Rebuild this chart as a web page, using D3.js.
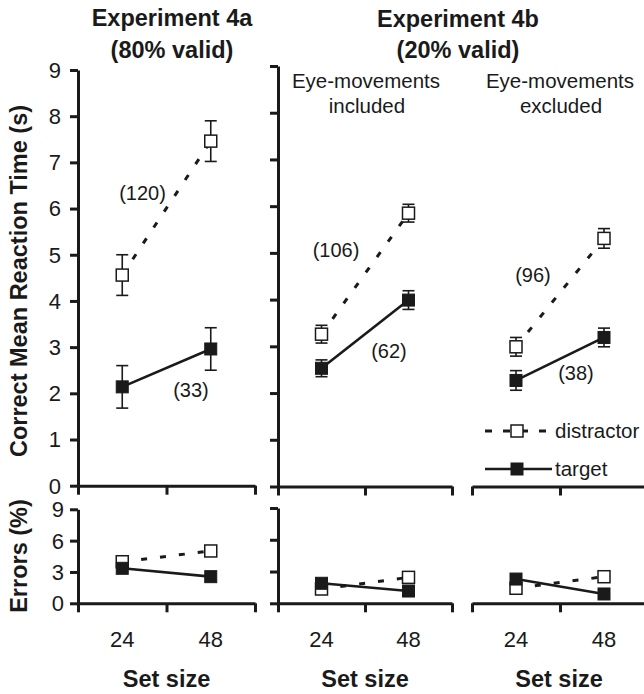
<!DOCTYPE html>
<html>
<head>
<meta charset="utf-8">
<script src="https://cdn.jsdelivr.net/npm/d3@7"></script>
<style>
  html, body { margin: 0; padding: 0; background: #fff; }
  svg { display: block; }
  text { font-family: "Liberation Sans", Arial, Helvetica, sans-serif; fill: #1a1a1a; }
</style>
</head>
<body>
<svg id="chart" width="644" height="694"></svg>
<script>
// ---------------- DATA ----------------
const setSizes = ["24", "48"];
const panelNames = ["Experiment 4a", "4b: eye-movements included", "4b: eye-movements excluded"];
// Correct mean reaction time (s), per panel, per set size
const rtDistractor    = [[4.56, 7.46], [3.26, 5.85], [2.99, 5.31]];
const rtDistractorErr = [[0.44, 0.44], [0.19, 0.19], [0.20, 0.21]];
const rtTarget        = [[2.14, 2.96], [2.53, 3.99], [2.27, 3.19]];
const rtTargetErr     = [[0.46, 0.46], [0.18, 0.20], [0.21, 0.20]];
// Errors (%)
const errDistractor = [[3.98, 5.01], [1.35, 2.45], [1.42, 2.51]];
const errTarget     = [[3.35, 2.55], [1.89, 1.16], [2.29, 0.88]];
// Slope annotations (ms per item)
const slopeDistractor = ["(120)", "(106)", "(96)"];
const slopeTarget     = ["(33)", "(62)", "(38)"];
const rtTicks  = [0, 1, 2, 3, 4, 5, 6, 7, 8, 9];
const errTicks = [0, 3, 6, 9];
const seriesNames = ["distractor", "target"];

// ---------------- LAYOUT ----------------
const svg = d3.select("#chart");
const ink = "#1a1a1a";
const layout = [
  { x0: 78,  x1: 255, rtBottom: 485.7, rtTop: 70,  erBottom: 603.3, erTop: 509.3, yAxis: true,  labels: true },
  { x0: 278, x1: 452, rtBottom: 486.5, rtTop: 66,  erBottom: 603.3, erTop: 508,   yAxis: true,  labels: false },
  { x0: 472, x1: 648, rtBottom: 486.5, rtTop: 66,  erBottom: 603.3, erTop: 508,   yAxis: false, labels: false }
];
const annotPos = [
  { d: [142.5, 200], t: [191, 397] },
  { d: [336, 257],   t: [389, 358] },
  { d: [533, 282],   t: [576, 380] }
];
const sq = 12;

function styleAxis(g) {
  g.selectAll("path.domain").attr("stroke", ink).attr("stroke-width", 3);
  g.selectAll(".tick line").attr("stroke", ink).attr("stroke-width", 3);
  g.selectAll(".tick text").remove();
}

layout.forEach((L, p) => {
  const xb = d3.scaleBand().domain(setSizes).range([L.x0, L.x1]);
  const xc = d => xb(d) + xb.bandwidth() / 2;
  const xAxisScale = d3.scaleLinear().domain([0, 2]).range([L.x0, L.x1]);
  const yRT = d3.scaleLinear().domain([0, 9]).range([L.rtBottom, L.rtTop]);
  const yER = d3.scaleLinear().domain([0, 9]).range([L.erBottom, L.erTop]);

  // x axes
  [L.rtBottom, L.erBottom].forEach(yy => {
    const g = svg.append("g").attr("transform", `translate(0,${yy})`)
      .call(d3.axisBottom(xAxisScale).tickValues([0, 1, 2]).tickSize(9).tickSizeOuter(0).tickFormat(""));
    styleAxis(g);
  });

  // y axes
  if (L.yAxis) {
    const g1 = svg.append("g").attr("transform", `translate(${L.x0},0)`)
      .call(d3.axisLeft(yRT).tickValues(rtTicks).tickSize(8).tickSizeOuter(0));
    styleAxis(g1);
    const g2 = svg.append("g").attr("transform", `translate(${L.x0},0)`)
      .call(d3.axisLeft(yER).tickValues(errTicks).tickSize(8).tickSizeOuter(0));
    styleAxis(g2);
    if (L.labels) {
      svg.append("g").selectAll("text").data(rtTicks).join("text")
        .attr("x", 61).attr("y", d => yRT(d)).attr("dy", "0.36em")
        .attr("text-anchor", "end").attr("font-size", 22).text(d => d);
      svg.append("g").selectAll("text").data(errTicks).join("text")
        .attr("x", 64).attr("y", d => yER(d)).attr("dy", "0.36em")
        .attr("text-anchor", "end").attr("font-size", 22).text(d => d);
    }
  }

  // x tick labels and axis title
  svg.append("g").selectAll("text").data(setSizes).join("text")
    .attr("x", d => xc(d)).attr("y", 647).attr("text-anchor", "middle")
    .attr("font-size", 22).text(d => d);
  svg.append("text").attr("x", (L.x0 + Math.min(L.x1, 648)) / 2 + (p === 2 ? -1 : 0)).attr("y", 687)
    .attr("text-anchor", "middle").attr("font-size", 23.5).attr("font-weight", "bold").text("Set size");

  // ---- RT panel ----
  const rtSeries = [
    { vals: rtDistractor[p], errs: rtDistractorErr[p], dash: "6,13", open: true },
    { vals: rtTarget[p],     errs: rtTargetErr[p],     dash: null,   open: false }
  ];
  const erSeries = [
    { vals: errDistractor[p], dash: "6,13", open: true },
    { vals: errTarget[p],     dash: null,   open: false }
  ];

  function drawSeries(series, y, withErr) {
    if (withErr) {
      series.forEach(s => {
        const g = svg.append("g").attr("stroke", ink).attr("stroke-width", 1.6);
        setSizes.forEach((k, i) => {
          const cx = xc(k), v = s.vals[i], e = s.errs[i];
          g.append("line").attr("x1", cx).attr("x2", cx).attr("y1", y(v - e)).attr("y2", y(v + e));
          g.append("line").attr("x1", cx - 6).attr("x2", cx + 6).attr("y1", y(v - e)).attr("y2", y(v - e));
          g.append("line").attr("x1", cx - 6).attr("x2", cx + 6).attr("y1", y(v + e)).attr("y2", y(v + e));
        });
      });
    }
    const line = d3.line().x((d, i) => xc(setSizes[i])).y(d => y(d));
    series.forEach(s => {
      svg.append("path").datum(s.vals).attr("d", line)
        .attr("fill", "none").attr("stroke", ink)
        .attr("stroke-width", s.open ? 3 : 2.6)
        .attr("stroke-dasharray", s.dash);
    });
    series.forEach(s => {
      svg.append("g").selectAll("rect").data(s.vals).join("rect")
        .attr("x", (d, i) => xc(setSizes[i]) - sq / 2)
        .attr("y", d => y(d) - sq / 2)
        .attr("width", sq).attr("height", sq)
        .attr("fill", s.open ? "#fff" : ink)
        .attr("stroke", ink).attr("stroke-width", s.open ? 1.5 : 1);
    });
  }
  drawSeries(rtSeries, yRT, true);
  drawSeries(erSeries, yER, false);

  // slope annotations
  svg.append("text").attr("x", annotPos[p].d[0]).attr("y", annotPos[p].d[1])
    .attr("text-anchor", "middle").attr("font-size", 20).text(slopeDistractor[p]);
  svg.append("text").attr("x", annotPos[p].t[0]).attr("y", annotPos[p].t[1])
    .attr("text-anchor", "middle").attr("font-size", 20).text(slopeTarget[p]);
});

// ---------------- TITLES ----------------
function title(x, y, txt, size, bold) {
  svg.append("text").attr("x", x).attr("y", y).attr("text-anchor", "middle")
    .attr("font-size", size).attr("font-weight", bold ? "bold" : "normal").text(txt);
}
title(172, 26, "Experiment 4a", 23.5, true);
title(172, 58, "(80% valid)", 23.5, true);
title(458, 27, "Experiment 4b", 23.5, true);
title(458, 58, "(20% valid)", 23.5, true);
title(366, 88, "Eye-movements", 20.5, false);
title(367, 113, "included", 20.5, false);
title(560, 88, "Eye-movements", 20.5, false);
title(561, 113, "excluded", 20.5, false);

svg.append("text").attr("transform", "translate(27,281) rotate(-90)")
  .attr("text-anchor", "middle").attr("font-size", 23.5).attr("font-weight", "bold")
  .text("Correct Mean Reaction Time (s)");
svg.append("text").attr("transform", "translate(27,556) rotate(-90)")
  .attr("text-anchor", "middle").attr("font-size", 23.5).attr("font-weight", "bold")
  .text("Errors (%)");

// ---------------- LEGEND ----------------
const legY = [431, 469];
const legDash = ["7,11", null];
seriesNames.forEach((name, i) => {
  svg.append("line").attr("x1", 485).attr("x2", 552).attr("y1", legY[i]).attr("y2", legY[i])
    .attr("stroke", ink).attr("stroke-width", i === 0 ? 3 : 2.6).attr("stroke-dasharray", legDash[i]);
  svg.append("rect").attr("x", 517 - sq / 2).attr("y", legY[i] - sq / 2).attr("width", sq).attr("height", sq)
    .attr("fill", i === 0 ? "#fff" : ink).attr("stroke", ink).attr("stroke-width", i === 0 ? 1.5 : 1);
  svg.append("text").attr("x", 555).attr("y", legY[i]).attr("dy", "0.36em")
    .attr("font-size", 20.5).text(name);
});
</script>
</body>
</html>
